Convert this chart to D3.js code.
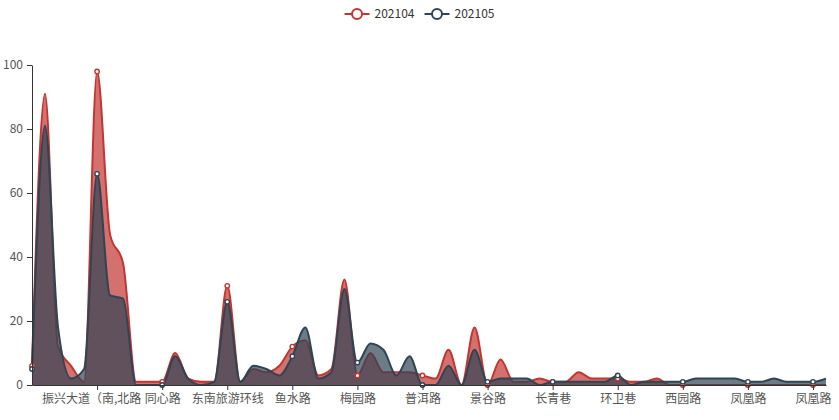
<!DOCTYPE html>
<html><head><meta charset="utf-8">
<script src="https://cdn.jsdelivr.net/npm/d3@7/dist/d3.min.js"></script>
<style>
html,body{margin:0;padding:0;background:#fff;}
svg{display:block;font-family:"Noto Sans CJK SC","Noto Sans",sans-serif;}
</style></head>
<body><svg id="c" width="839" height="420"></svg>
<script>
// ---- data ----
const seriesNames = ["202104", "202105"];
const seriesColors = ["#c23531", "#2f4554"];
// 62 categories (only every 5th label is shown on the axis)
const categories = d3.range(62);
const tickLabels = ["", "振兴大道（南,北路", "同心路", "东南旅游环线", "鱼水路", "梅园路", "普洱路", "景谷路", "长青巷", "环卫巷", "西园路", "凤凰路", "凤凰路"];
const values202104 = [6, 91, 12, 6, 1, 98, 47, 38, 1, 1,
                      1, 10, 2, 1, 1, 31, 1, 5, 4, 6,
                      12, 14, 3, 5, 33, 3, 10, 4, 4, 4,
                      3, 2, 11, 0, 18, 0, 8, 1, 1, 2,
                      1, 1, 4, 2, 2, 2, 1, 1, 2, 0,
                      0, 0, 0, 0, 0, 0, 0, 0, 0, 0,
                      0, 0];
const values202105 = [5, 81, 18, 2, 5, 66, 28, 27, 0, 0,
                      0, 9, 2, 0, 1, 26, 1, 6, 5, 3,
                      9, 18, 2, 4, 30, 7, 13, 11, 3, 9,
                      0, 0, 6, 0, 11, 1, 2, 2, 2, 0,
                      1, 1, 1, 1, 1, 3, 0, 1, 1, 1,
                      1, 2, 2, 2, 2, 1, 1, 2, 1, 1,
                      1, 2];
const yTicks = [0, 20, 40, 60, 80, 100];

// ---- drawing ----
const svg = d3.select("#c");
const x = d3.scalePoint().domain(categories).range([32, 826]).padding(0);
const y = d3.scaleLinear().domain([0, 100]).range([385, 65]);
const series = [values202104, values202105];

const area = d3.area().x((d, i) => x(categories[i])).y0(y(0)).y1(d => y(d)).curve(d3.curveMonotoneX);
const line = d3.line().x((d, i) => x(categories[i])).y(d => y(d)).curve(d3.curveMonotoneX);

series.forEach((vals, s) => {
  const g = svg.append("g");
  g.append("path").attr("d", area(vals)).attr("fill", seriesColors[s]).attr("fill-opacity", 0.7);
  g.append("path").attr("d", line(vals)).attr("fill", "none").attr("stroke", seriesColors[s]).attr("stroke-width", 2);
});
series.forEach((vals, s) => {
  svg.append("g").selectAll("circle")
    .data(categories.filter(i => i % 5 === 0))
    .join("circle")
    .attr("cx", i => x(i)).attr("cy", i => y(vals[i]))
    .attr("r", 2.2).attr("fill", "#fff").attr("stroke", seriesColors[s]).attr("stroke-width", 1.4);
});

// y axis
const yAxis = svg.append("g").attr("transform", "translate(32,0)")
  .call(d3.axisLeft(y).tickValues(yTicks).tickSize(5).tickSizeOuter(0).tickPadding(4));
// x axis
const xAxis = svg.append("g").attr("transform", "translate(0,385)")
  .call(d3.axisBottom(x).tickValues(categories.filter(i => i % 5 === 0))
    .tickFormat(i => tickLabels[i / 5]).tickSize(5).tickSizeOuter(0).tickPadding(4));
[yAxis, xAxis].forEach(a => {
  a.select(".domain").attr("stroke", "#333");
  a.selectAll(".tick line").attr("stroke", "#333");
  a.selectAll(".tick text").attr("fill", "#555").style("font-size", "12px")
    .style("font-family", '"Noto Sans CJK SC","Noto Sans",sans-serif');
});
xAxis.selectAll(".tick").filter(i => i === 0).select("line").remove();
xAxis.selectAll(".tick").filter(i => i === 5).select("text").attr("dx", -6);

// legend
const leg = svg.append("g");
let cx = 0;
seriesNames.forEach((name, s) => {
  const it = leg.append("g").attr("transform", `translate(${cx},0)`);
  it.append("line").attr("x1", 0).attr("x2", 25).attr("y1", 14).attr("y2", 14)
    .attr("stroke", seriesColors[s]).attr("stroke-width", 2);
  it.append("circle").attr("cx", 12.5).attr("cy", 14).attr("r", 5)
    .attr("fill", "#fff").attr("stroke", seriesColors[s]).attr("stroke-width", 2);
  const t = it.append("text").attr("x", 30).attr("y", 14).attr("dy", "0.35em")
    .attr("fill", "#333").style("font-size", "12px").text(name);
  const w = t.node().getComputedTextLength();
  cx += 30 + w + 10;
});
const totalW = cx - 10;
leg.attr("transform", `translate(${419.5 - totalW / 2},0)`);
</script>
</body></html>
